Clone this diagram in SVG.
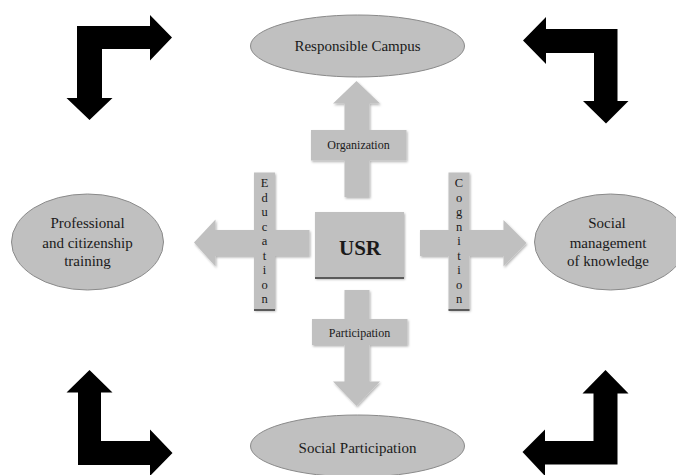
<svg xmlns="http://www.w3.org/2000/svg" width="676" height="475" viewBox="0 0 676 475">
  <style>
    .ell { fill: #c0c0c0; stroke: #8a8a8a; stroke-width: 1; }
    .gray { fill: #c0c0c0; }
    .blk { fill: #000; }
    .t { font-family: "Liberation Serif", "Times New Roman", serif; fill: #1a1a1a; text-anchor: middle; }
    .big { font-size: 15px; }
    .sm { font-size: 12px; }
    .v { font-size: 12.5px; }
    .edge { stroke: #5a5a5a; stroke-width: 2; }
  </style>
  <defs>
    <filter id="sh" x="-20%" y="-20%" width="140%" height="140%">
      <feDropShadow dx="1" dy="1.5" stdDeviation="1.2" flood-color="#000" flood-opacity="0.3"/>
    </filter>
  </defs>

  <g id="connectors">
    <!-- black corner arrows -->
    <polygon class="blk" points="77,26 150,26 150,15 172,37.5 150,60.5 150,49 102,49 102,98 112.5,98 89.5,120 66.5,98 77,98"/>
    <polygon class="blk" points="523,40.5 546,17 546,29 617.5,29 617.5,101 628.5,101 606,123.5 583,101 594,101 594,53 546,53 546,64"/>
    <polygon class="blk" points="89.5,370 112.5,392.5 101,392.5 101,441 150,441 150,429.5 172.5,453 150,476 150,465 78,465 78,392.5 66.5,392.5"/>
    <polygon class="blk" points="605.5,370 628.5,393.5 617.5,393.5 617.5,464.5 545,464.5 545,476 522.5,452 545,429.5 545,441 593.5,441 593.5,393.5 582.5,393.5"/>

    <!-- up arrow: Organization -->
    <g id="arrow-organization" filter="url(#sh)">
      <polygon class="gray" points="356.5,81 380,103.5 369.5,103.5 369.5,197 344.5,197 344.5,103.5 333,103.5"/>
      <rect class="gray" x="311" y="130" width="95.5" height="30.5"/>
    </g>
    <text class="t sm" x="358.5" y="149">Organization</text>

    <!-- down arrow: Participation -->
    <g id="arrow-participation" filter="url(#sh)">
      <polygon class="gray" points="344.5,290 369.5,290 369.5,381.5 380,381.5 356.5,406 333,381.5 344.5,381.5"/>
      <rect class="gray" x="312" y="319" width="95.5" height="26"/>
    </g>
    <text class="t sm" x="359.5" y="337">Participation</text>

    <!-- left arrow: Education -->
    <g id="arrow-education" filter="url(#sh)">
      <polygon class="gray" points="309.5,230 309.5,256 215.5,256 215.5,266.5 194,242.5 215.5,219.5 215.5,230"/>
      <rect class="gray" x="254" y="172.5" width="21" height="137.5"/>
    </g>
    <line class="edge" x1="254" y1="310" x2="275" y2="310"/>
    <text class="t v" x="264.5" y="187">E<tspan x="264.5" dy="14.5">d</tspan><tspan x="264.5" dy="14.5">u</tspan><tspan x="264.5" dy="14.5">c</tspan><tspan x="264.5" dy="14.5">a</tspan><tspan x="264.5" dy="14.5">t</tspan><tspan x="264.5" dy="14.5">i</tspan><tspan x="264.5" dy="14.5">o</tspan><tspan x="264.5" dy="14.5">n</tspan></text>

    <!-- right arrow: Cognition -->
    <g id="arrow-cognition" filter="url(#sh)">
      <polygon class="gray" points="420,230 503.5,230 503.5,220 526.5,243 503.5,266.5 503.5,256 420,256"/>
      <rect class="gray" x="448.5" y="172.5" width="21" height="137.5"/>
    </g>
    <line class="edge" x1="448.5" y1="310" x2="469.5" y2="310"/>
    <text class="t v" x="459" y="187">C<tspan x="459" dy="14.5">o</tspan><tspan x="459" dy="14.5">g</tspan><tspan x="459" dy="14.5">n</tspan><tspan x="459" dy="14.5">i</tspan><tspan x="459" dy="14.5">t</tspan><tspan x="459" dy="14.5">i</tspan><tspan x="459" dy="14.5">o</tspan><tspan x="459" dy="14.5">n</tspan></text>
  </g>

  <g id="usr">
    <rect class="gray" x="315" y="212" width="89" height="66" filter="url(#sh)"/>
    <line class="edge" x1="315" y1="278" x2="404" y2="278"/>
    <text class="t" x="360" y="254.5" font-size="21" font-weight="bold">USR</text>
  </g>

  <g id="responsible-campus">
    <ellipse class="ell" cx="357.5" cy="46" rx="107" ry="31"/>
    <text class="t big" x="357.5" y="51">Responsible Campus</text>
  </g>

  <g id="professional-training">
    <ellipse class="ell" cx="87.5" cy="242" rx="76" ry="48"/>
    <text class="t big" x="87.5" y="228">Professional</text>
    <text class="t big" x="87.5" y="247.5">and citizenship</text>
    <text class="t big" x="87.5" y="266">training</text>
  </g>

  <g id="social-management">
    <ellipse class="ell" cx="610.5" cy="242" rx="76" ry="48"/>
    <text class="t big" x="607" y="228">Social</text>
    <text class="t big" x="608" y="247.5">management</text>
    <text class="t big" x="608" y="266">of knowledge</text>
  </g>

  <g id="social-participation">
    <ellipse class="ell" cx="357.5" cy="446" rx="107" ry="31"/>
    <text class="t big" x="357.5" y="453">Social Participation</text>
  </g>
</svg>
